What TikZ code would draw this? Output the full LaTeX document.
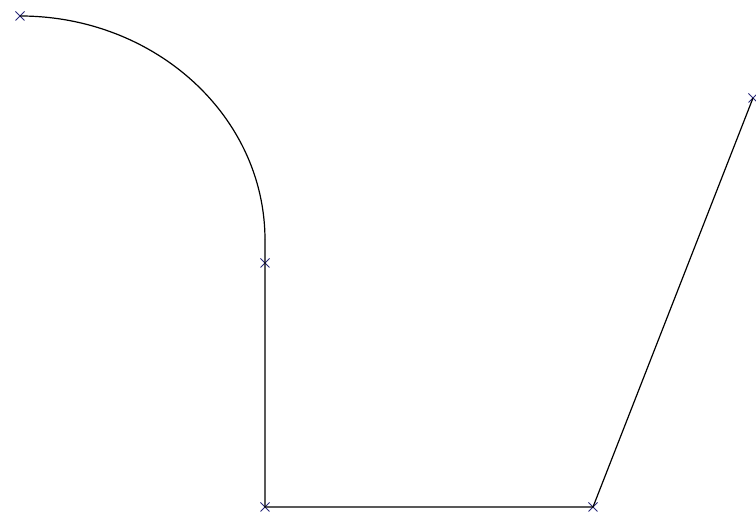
\documentclass[tikz,border=0pt]{standalone}
\usetikzlibrary{shapes.misc}
\definecolor{marknavy}{RGB}{40,40,120}
\tikzset{
  pmark/.style={cross out, draw=marknavy, line width=1pt, minimum size=8pt, inner sep=0pt},
  pline/.style={line width=1.2pt, black}
}
\begin{document}
\begin{tikzpicture}[x=1pt,y=1pt]
\useasboundingbox[fill=white] (0,0) rectangle (756,518);
\node[pmark] (p1) at (20,502) {};
\node[pmark] (p2) at (265,255) {};
\node[pmark] (p3) at (265,11) {};
\node[pmark] (p4) at (593,11) {};
\node[pmark] (p5) at (753,420) {};
\coordinate (a0) at (20,502);
\coordinate (a1) at (265,278);
\draw[pline] (a0) arc[start angle=90, end angle=0, x radius=245, y radius=224];
\draw[pline] (a1) -- (p2.center) -- (p3.center) -- (p4.center) -- (p5.center);
\end{tikzpicture}
\end{document}
